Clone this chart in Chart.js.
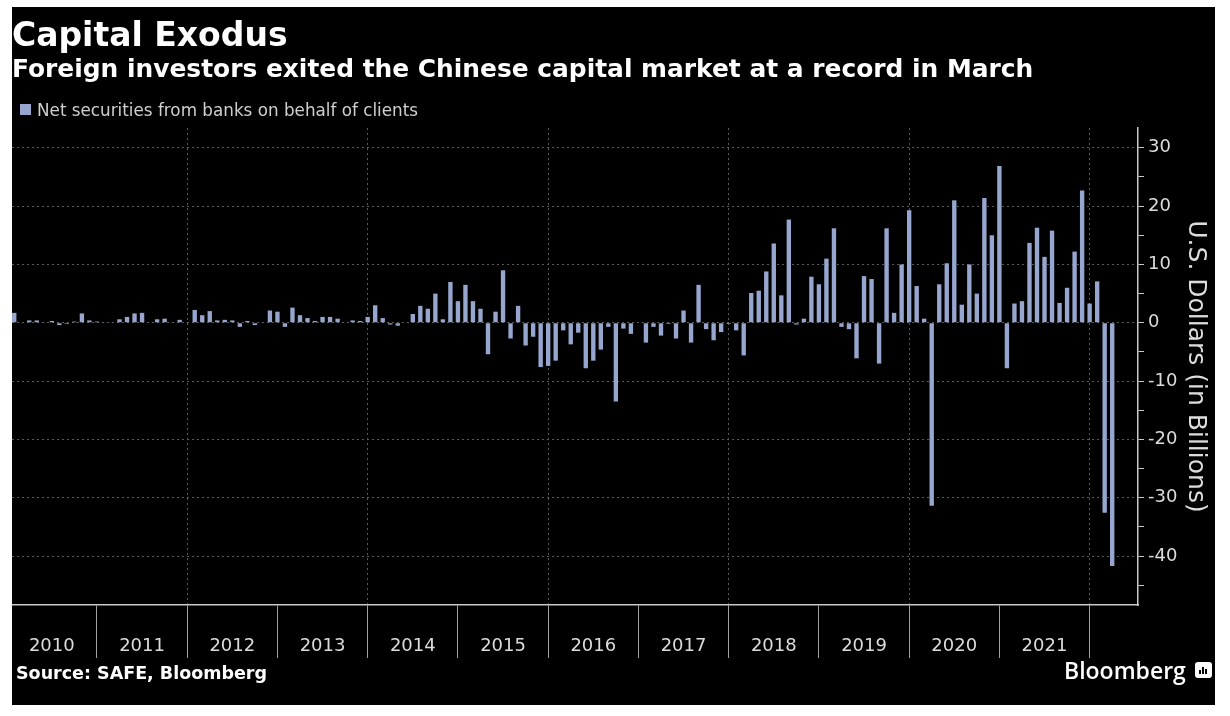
<!DOCTYPE html>
<html>
<head>
<meta charset="utf-8">
<script src="https://cdn.jsdelivr.net/npm/chart.js@4.4.1/dist/chart.umd.min.js"></script>
<style>
  html, body { margin: 0; padding: 0; background: #fff; }
  #frame { position: absolute; left: 12px; top: 7px; width: 1203px; height: 698px; background: #000; overflow: hidden; }
  .txt { position: absolute; white-space: nowrap; line-height: 1; color: #fff; font-family: "DejaVu Sans", sans-serif; }
  #title { left: 12px; top: 18px; font-size: 33px; font-weight: bold; }
  #subtitle { left: 12px; top: 57px; font-size: 24.9px; font-weight: bold; }
  #legendBox { position: absolute; left: 20px; top: 104px; width: 11px; height: 11px; background: #96a6cf; }
  #legendText { left: 37px; top: 102px; font-size: 16.8px; color: #cfcfcf; }
  #source { left: 16px; top: 665px; font-size: 17.5px; font-weight: bold; }
  #brand { left: 1064px; top: 659px; font-size: 23px; font-weight: 600; font-family: "Open Sans", sans-serif; }
  #icon { position: absolute; left: 1195px; top: 662px; width: 17px; height: 16px; background: #fff; border-radius: 3px; }
  #icon span { position: absolute; bottom: 4px; width: 2px; background: #000; }
</style>
</head>
<body>
<div id="frame">
  <canvas id="chart" width="1203" height="698"></canvas>
</div>
<div class="txt" id="title">Capital Exodus</div>
<div class="txt" id="subtitle">Foreign investors exited the Chinese capital market at a record in March</div>
<div id="legendBox"></div>
<div class="txt" id="legendText">Net securities from banks on behalf of clients</div>
<div class="txt" id="source">Source: SAFE, Bloomberg</div>
<div class="txt" id="brand">Bloomberg</div>
<div id="icon"><span style="left:4px;height:4px"></span><span style="left:7px;height:7px"></span><span style="left:10px;height:5px"></span></div>
<script>
// monthly net flows, billions of US dollars, January 2010 to March 2022
const v2010 = [1.7, -0.1, 0.4, 0.4, 0.1, 0.3, -0.4, -0.2, 0.2, 1.6, 0.4, 0.2];
const v2011 = [0.1, 0.1, 0.6, 1.0, 1.6, 1.7, 0.1, 0.6, 0.7, 0.1, 0.5, 0.1];
const v2012 = [2.2, 1.3, 2.0, 0.4, 0.5, 0.4, -0.7, 0.3, -0.4, 0.1, 2.1, 1.9];
const v2013 = [-0.7, 2.6, 1.3, 0.8, 0.3, 1.0, 1.0, 0.7, 0.1, 0.4, 0.3, 1.0];
const v2014 = [3.0, 0.8, -0.3, -0.5, 0.0, 1.5, 2.9, 2.4, 5.0, 0.6, 7.0, 3.7];
const v2015 = [6.5, 3.7, 2.4, -5.4, 1.9, 9.0, -2.7, 2.9, -3.9, -2.4, -7.6, -7.4];
const v2016 = [-6.5, -1.3, -3.7, -1.7, -7.8, -6.5, -4.6, -0.7, -13.5, -1.0, -1.9, 0.1];
const v2017 = [-3.4, -0.7, -2.2, -0.2, -2.7, 2.1, -3.4, 6.5, -1.1, -3.0, -1.6, -0.2];
const v2018 = [-1.3, -5.6, 5.1, 5.5, 8.8, 13.6, 4.7, 17.7, -0.3, 0.7, 7.9, 6.6];
const v2019 = [11.0, 16.2, -0.7, -1.1, -6.1, 8.0, 7.5, -7.0, 16.2, 1.7, 10.0, 19.3];
const v2020 = [6.3, 0.7, -31.4, 6.6, 10.2, 21.0, 3.1, 10.0, 5.0, 21.4, 15.0, 26.9];
const v2021 = [-7.8, 3.3, 3.7, 13.7, 16.3, 11.3, 15.8, 3.4, 6.0, 12.2, 22.7, 3.3];
const v2022 = [7.1, -32.6, -41.7];

const yearLabels = ['2010', '2011', '2012', '2013', '2014', '2015', '2016', '2017', '2018', '2019', '2020', '2021'];

const monthly = [v2010, v2011, v2012, v2013, v2014, v2015, v2016, v2017, v2018, v2019, v2020, v2021, v2022].flat();
// x is months since Jan 1 2010, each bar sits at its month end
const points = monthly.map((v, i) => ({ x: i + 1, y: v }));

const BAR = '#96a6cf';
const GRID = '#5a5a5a';
const AXIS = '#c8c8c8';
const tickFont = { family: 'DejaVu Sans', size: 18 };

new Chart(document.getElementById('chart'), {
  type: 'bar',
  data: {
    datasets: [{
      label: 'Net securities from banks on behalf of clients',
      data: points,
      backgroundColor: BAR,
      barPercentage: 0.58,
      categoryPercentage: 1.0
    }]
  },
  options: {
    responsive: false,
    animation: false,
    layout: { padding: { top: 121, left: 0, right: 0, bottom: 0 } },
    plugins: { legend: { display: false }, tooltip: { enabled: false } },
    scales: {
      x: {
        type: 'linear',
        offset: false,
        min: 0.705,
        max: 150.43,
        afterFit: (s) => { s.height = 100; },
        border: { display: true, color: AXIS, width: 1.5, dash: [2, 3] },
        grid: {
          offset: false,
          color: (c) => (c.tick && c.tick.value % 24 === 0 && c.tick.value < 150) ? GRID : 'transparent',
          tickColor: (c) => (c.tick && c.tick.value % 12 === 0 && c.tick.value < 150) ? '#a0a0a0' : 'transparent',
          tickBorderDash: [],
          tickLength: 53,
          lineWidth: 1
        },
        ticks: {
          stepSize: 6,
          includeBounds: false,
          autoSkip: false,
          maxRotation: 0,
          maxTicksLimit: 100,
          padding: -22,
          color: '#dcdcdc',
          font: tickFont,
          callback: (v) => (v % 12 === 6 && v < 144) ? yearLabels[(v - 6) / 12] : ''
        }
      },
      y: {
        position: 'right',
        min: -48.4,
        max: 33.4,
        afterFit: (s) => { s.width = 77; },
        border: { display: true, color: AXIS, width: 1.5, dash: [2, 3] },
        grid: {
          color: (c) => (c.tick && c.tick.value % 10 === 0) ? GRID : 'transparent',
          tickColor: AXIS,
          tickBorderDash: [],
          tickLength: 6
        },
        ticks: {
          stepSize: 5,
          includeBounds: false,
          maxTicksLimit: 100,
          padding: 4,
          color: '#dcdcdc',
          font: tickFont,
          callback: (v) => v % 10 === 0 ? String(v) : ''
        },
        title: {
          display: true,
          text: 'U.S. Dollars (in Billions)',
          color: '#dcdcdc',
          font: { family: 'DejaVu Sans', size: 25 },
          padding: { top: 5, bottom: 0 }
        }
      }
    }
  }
});
</script>
</body>
</html>
